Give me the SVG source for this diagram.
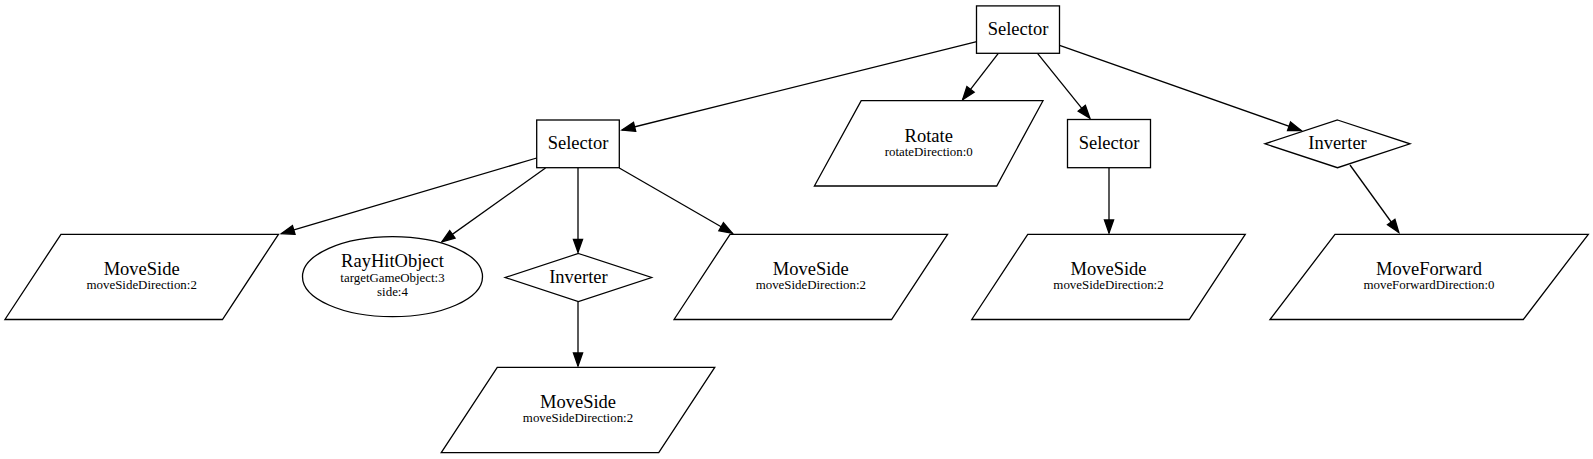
<svg xmlns="http://www.w3.org/2000/svg" width="1593" height="459" viewBox="0 0 1593 459">
<style>
.shape{fill:#ffffff;stroke:#000000;stroke-width:1.3}
.edge{fill:none;stroke:#000000;stroke-width:1.3}
.t{font-family:"Liberation Serif","Times New Roman",serif;font-size:18.5px;fill:#000000;text-anchor:middle}
.s{font-family:"Liberation Serif","Times New Roman",serif;font-size:12.9px;fill:#000000;text-anchor:middle}
</style>
<defs>
<marker id="arrow" markerUnits="userSpaceOnUse" markerWidth="16" markerHeight="12" refX="13" refY="0" viewBox="-1 -6 16 12" orient="auto" overflow="visible">
<path d="M0,-4.6 L13,0 L0,4.6 Z" fill="#000000" stroke="#000000" stroke-width="1.3"/>
</marker>
</defs>
<rect x="0" y="0" width="1593" height="459" fill="#ffffff"/>
<g id="connectors">
<line class="edge" x1="976.7" y1="41.7" x2="622" y2="130" marker-end="url(#arrow)"/>
<line class="edge" x1="998.3" y1="53.3" x2="962.6" y2="99.7" marker-end="url(#arrow)"/>
<line class="edge" x1="1037.5" y1="53.3" x2="1089.9" y2="118.3" marker-end="url(#arrow)"/>
<line class="edge" x1="1059.6" y1="45.3" x2="1301.3" y2="130.6" marker-end="url(#arrow)"/>
<line class="edge" x1="1109" y1="167.7" x2="1109" y2="233" marker-end="url(#arrow)"/>
<line class="edge" x1="1350" y1="165" x2="1398.8" y2="232.5" marker-end="url(#arrow)"/>
<line class="edge" x1="536.7" y1="158" x2="281.3" y2="233.6" marker-end="url(#arrow)"/>
<line class="edge" x1="545.5" y1="168" x2="441.8" y2="241.9" marker-end="url(#arrow)"/>
<line class="edge" x1="578" y1="167.7" x2="578" y2="252.3" marker-end="url(#arrow)"/>
<line class="edge" x1="619.3" y1="168" x2="732.4" y2="233.2" marker-end="url(#arrow)"/>
<line class="edge" x1="578" y1="301.5" x2="578" y2="366" marker-end="url(#arrow)"/>
</g>
<g id="root_selector">
<rect class="shape" x="976.5" y="5.9" width="83" height="47.4"/>
<text class="t" x="1018" y="35">Selector</text>
</g>
<g id="selector_left">
<rect class="shape" x="536.7" y="120" width="82.6" height="47.7"/>
<text class="t" x="578" y="149">Selector</text>
</g>
<g id="rotate">
<polygon class="shape" points="861.2,100.7 1043,100.7 996.7,186 814.4,186"/>
<text class="t" x="928.7" y="141.5">Rotate</text>
<text class="s" x="928.7" y="155.5">rotateDirection:0</text>
</g>
<g id="selector_right">
<rect class="shape" x="1067.5" y="119.5" width="83" height="48.2"/>
<text class="t" x="1109" y="149">Selector</text>
</g>
<g id="inverter_right">
<polygon class="shape" points="1337.5,120 1410,143.8 1337.5,167.7 1265,143.8"/>
<text class="t" x="1337.5" y="149">Inverter</text>
</g>
<g id="moveside_left">
<polygon class="shape" points="60.95,234.3 278.45,234.3 222.45,319.5 4.95,319.5"/>
<text class="t" x="141.7" y="275">MoveSide</text>
<text class="s" x="141.7" y="288.5">moveSideDirection:2</text>
</g>
<g id="rayhitobject">
<ellipse class="shape" cx="392.5" cy="276.7" rx="90" ry="40"/>
<text class="t" x="392.5" y="266.5">RayHitObject</text>
<text class="s" x="392.5" y="282">targetGameObject:3</text>
<text class="s" x="392.5" y="296">side:4</text>
</g>
<g id="inverter_left">
<polygon class="shape" points="578.4,253.5 651.6,277.5 578.4,301.5 505.2,277.5"/>
<text class="t" x="578.4" y="282.5">Inverter</text>
</g>
<g id="moveside_mid">
<polygon class="shape" points="730.05,234.3 947.55,234.3 891.55,319.5 674.05,319.5"/>
<text class="t" x="810.8" y="275">MoveSide</text>
<text class="s" x="810.8" y="288.5">moveSideDirection:2</text>
</g>
<g id="moveside_right">
<polygon class="shape" points="1027.75,234.3 1245.25,234.3 1189.25,319.5 971.75,319.5"/>
<text class="t" x="1108.5" y="275">MoveSide</text>
<text class="s" x="1108.5" y="288.5">moveSideDirection:2</text>
</g>
<g id="moveforward">
<polygon class="shape" points="1335,234.3 1588.3,234.3 1523.3,319.5 1270,319.5"/>
<text class="t" x="1429" y="274.5">MoveForward</text>
<text class="s" x="1429" y="288.5">moveForwardDirection:0</text>
</g>
<g id="moveside_bottom">
<polygon class="shape" points="497.25,367.3 714.75,367.3 658.75,452.7 441.25,452.7"/>
<text class="t" x="578" y="408">MoveSide</text>
<text class="s" x="578" y="421.5">moveSideDirection:2</text>
</g>
</svg>
